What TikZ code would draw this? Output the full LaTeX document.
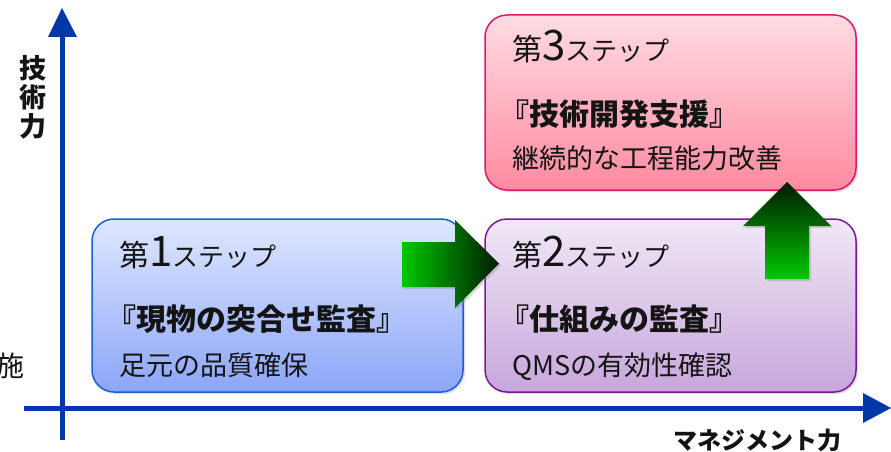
\documentclass[tikz,border=0pt]{standalone}
\usepackage{fontspec}
\newfontfamily\jp{Noto Sans CJK JP}
\usetikzlibrary{shadows}
\definecolor{axisblue}{HTML}{0038A8}
\definecolor{b1top}{HTML}{DFE7FF}
\definecolor{b1bot}{HTML}{8CA6F8}
\definecolor{b1line}{HTML}{1A5FD8}
\definecolor{b2top}{HTML}{F0E8F6}
\definecolor{b2bot}{HTML}{C8A6DC}
\definecolor{b2line}{HTML}{7A1A96}
\definecolor{b3top}{HTML}{FFDCE3}
\definecolor{b3bot}{HTML}{FF8AA0}
\definecolor{b3line}{HTML}{E0186A}
\definecolor{arrbright}{HTML}{00C800}
\definecolor{arrdark}{HTML}{001A00}
\definecolor{ink}{HTML}{141414}
\newcommand{\dai}{{\fontsize{30}{30}\selectfont 第}}
\newcommand{\stepnum}[1]{{\fontsize{42}{42}\selectfont #1}}
\begin{document}
\begin{tikzpicture}[x=1pt,y=-1pt,
  box/.style={rounded corners=22pt, line width=1.5pt, inner sep=0pt,
    minimum width=371pt, drop shadow={opacity=0.25, shadow xshift=2pt, shadow yshift=-2pt}},
  steptxt/.style={anchor=base west, inner sep=0pt, text=ink, font=\jp\fontsize{26}{26}\selectfont},
  titletxt/.style={anchor=base west, inner sep=0pt, text=ink, font=\jp\bfseries\fontsize{30}{30}\selectfont},
  subtxt/.style={anchor=base west, inner sep=0pt, text=ink, font=\jp\fontsize{27}{27}\selectfont},
  axisline/.style={draw=axisblue, line width=5pt},
  axishead/.style={fill=axisblue},
  blockarrow/.style={drop shadow={opacity=0.3, shadow xshift=2pt, shadow yshift=-2pt}}
]
\useasboundingbox (0,0) rectangle (891,452);

% axes
\coordinate (ybot) at (62,440);
\coordinate (ytop) at (62,37);
\coordinate (xleft) at (24,408);
\coordinate (xright) at (863,408);
\draw[axisline] (ybot) -- (ytop);
\fill[axishead] (48,37) -- (62,8) -- (77,37) -- cycle;
\draw[axisline] (xleft) -- (xright);
\fill[axishead] (863,393) -- (891,408) -- (863,423) -- cycle;

% axis labels
\node[inner sep=0pt, text=ink, align=center, font=\jp\bfseries\fontsize{27}{29}\selectfont] (ylab) at (33,97) {技\\術\\力};
\node[inner sep=0pt, text=ink, font=\jp\bfseries\fontsize{24}{24}\selectfont] (xlab) at (757,440) {マネジメント力};
\node[inner sep=0pt, text=ink, font=\jp\fontsize{28}{28}\selectfont] (cut) at (11,366) {施};

% boxes
\node[box, minimum height=173pt, top color=b1top, bottom color=b1bot, draw=b1line] (s1) at (277.5,305.5) {};
\node[box, minimum height=173pt, top color=b2top, bottom color=b2bot, draw=b2line] (s2) at (670.5,305.5) {};
\node[box, minimum height=175pt, top color=b3top, bottom color=b3bot, draw=b3line] (s3) at (670.5,102.5) {};

% box 1 texts
\node[steptxt] (s1a) at (119,266) {\dai\stepnum{1}ステップ};
\node[titletxt] (s1b) at (106,330) {『現物の突合せ監査』};
\node[subtxt] (s1c) at (119,375) {足元の品質確保};

% box 2 texts
\node[steptxt] (s2a) at (512,266) {\dai\stepnum{2}ステップ};
\node[titletxt] (s2b) at (499,330) {『仕組みの監査』};
\node[subtxt] (s2c) at (512,375) {QMSの有効性確認};

% box 3 texts
\node[steptxt] (s3a) at (512,60) {\dai\stepnum{3}ステップ};
\node[titletxt] (s3b) at (499,125) {『技術開発支援』};
\node[subtxt] (s3c) at (512,168) {継続的な工程能力改善};

% block arrows
\shade[blockarrow, left color=arrbright, right color=arrdark]
  (402,242) -- (455,242) -- (455,220) -- (499,263.5) -- (455,308) -- (455,287) -- (402,287) -- cycle;
\shade[blockarrow, top color=arrdark, bottom color=arrbright]
  (765,279) -- (765,226) -- (743,226) -- (787,182) -- (831,226) -- (809,226) -- (809,279) -- cycle;
\end{tikzpicture}
\end{document}
